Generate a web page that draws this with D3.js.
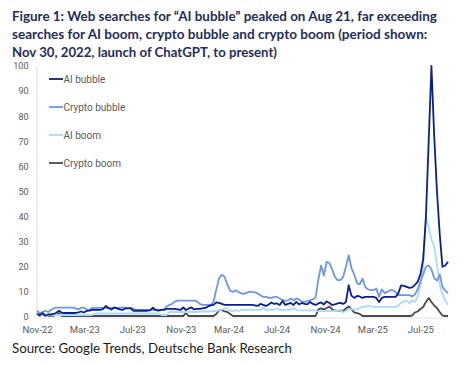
<!DOCTYPE html>
<html>
<head>
<meta charset="utf-8">
<script src="https://cdn.jsdelivr.net/npm/d3@7"></script>
<style>
  html, body { margin: 0; padding: 0; background: #fff; }
  svg { display: block; }
</style>
</head>
<body>
<svg id="chart" width="471" height="365"></svg>
<script>
// ---- Data (Google Trends index, weekly, starting Nov 30, 2022) ----
const startDate = "2022-11-30";
const seriesNames = ["AI bubble", "Crypto bubble", "AI boom", "Crypto boom"];

const aiBubble = [
  1.2, 0.8, 1.5, 0.5, 1, 1, 1.2, 1.7, 2.5, 1.7,
  1.6, 1.6, 1.6, 1.6, 1.6, 1.8, 2.2, 1.8, 2.4, 2.5,
  2.8, 2.8, 2.8, 2.8, 3.2, 4.4, 3.5, 3, 3.8, 3.4,
  3, 2.8, 3.4, 3.4, 3.4, 2.5, 2.5, 2.5, 2.5, 2.5,
  2.5, 2.6, 3.7, 2.8, 2.5, 2.8, 2.8, 3.2, 3.2, 3.2,
  3.2, 3, 2.8, 3.8, 2.8, 3.4, 3.8, 3, 3.2, 3.2,
  3.4, 3.6, 4.2, 4.6, 4.8, 5.8, 5.6, 5.2, 4.8, 4.8,
  4.8, 4.8, 4.8, 4.8, 4.8, 4.8, 4.8, 4.8, 4.8, 4.6,
  4.4, 5.2, 4.8, 4.4, 5, 5.8, 5.2, 5.4, 4.8, 6.4,
  4.8, 5.2, 5.6, 4.8, 6, 5, 5.6, 5.2, 5, 6,
  5.2, 4.8, 5.4, 5.8, 5, 6.2, 5.6, 4.8, 5, 5.4,
  5.6, 5.2, 6, 12.7, 8.5, 7.6, 8.4, 8.2, 7.6, 8,
  8, 8, 8, 7.6, 6, 7.6, 8, 8, 8, 8,
  8, 9.5, 12.6, 12.4, 12, 11.6, 11.8, 12.8, 14, 17,
  23, 40, 70, 100, 72, 50, 33, 20, 20.5, 22
];
const cryptoBubble = [
  2.5, 1.5, 2, 2.5, 2, 2.8, 3.4, 3.7, 3.7, 3.7,
  3.7, 3.7, 3.7, 3.7, 3.4, 3, 3.7, 3.7, 3, 2.8,
  3.7, 3.4, 3.6, 3.6, 3.6, 3.6, 3.6, 3.6, 3.6, 3.6,
  3.6, 3.8, 3.6, 3.6, 3.6, 3.2, 2.8, 2.8, 2.8, 2.8,
  2.8, 2.8, 2.8, 2.8, 2.8, 2.8, 3, 4.2, 4.8, 5.2,
  6.2, 6.5, 6.5, 6.5, 6.5, 6.5, 6.5, 6.5, 6.2, 5.2,
  4.8, 4.8, 4.8, 4.8, 6, 11, 15.5, 16.8, 16, 13,
  10.5, 10, 10.7, 10, 9.4, 9.2, 9.6, 10, 10, 9.8,
  9.4, 8.7, 8, 8, 7.6, 7.6, 8, 8, 7.4, 6.8,
  6.4, 6.6, 7.4, 6.6, 7.4, 7, 6.2, 6, 6.3, 6.7,
  7, 7.8, 15, 20.5, 16.5, 22, 21.5, 19, 16, 14.7,
  14.7, 16, 20, 24.6, 19.5, 17, 13.5, 13, 15.3, 12,
  11, 10.7, 10.7, 11.4, 8, 11, 9.5, 10, 10.7, 10.7,
  10, 8.7, 8.7, 8.7, 8.7, 8.7, 8.2, 9, 11, 14,
  17, 20, 20.5, 19, 15.5, 14.5, 17, 12, 10.5, 9.5
];
const aiBoom = [
  1.5, 1, 0.8, 0.8, 0.8, 0.8, 0.8, 0.8, 0.8, 0.8,
  0.8, 0.8, 0.8, 0.8, 0.8, 0.8, 0.8, 0.8, 0.8, 0.8,
  0.8, 1.4, 1.4, 1.4, 1.4, 1.4, 1.4, 1.4, 1.4, 1.4,
  1.4, 1.4, 1.4, 1.4, 1.4, 1.4, 1.4, 1.4, 1.4, 1.4,
  1.4, 1.4, 1.4, 1.4, 1.4, 0.8, 0.8, 0.8, 2, 2,
  2, 2, 2, 2, 2, 2, 2, 2, 2, 2.2,
  2.2, 2.2, 2.2, 2.2, 2.4, 2.4, 2.6, 3, 3.4, 3.4,
  2.6, 2.2, 2.8, 2.4, 2.8, 2.8, 2.8, 2.8, 2.8, 2.8,
  2.8, 2.8, 3.8, 2.8, 2.8, 2.8, 2.8, 3.4, 2.8, 2.8,
  2.8, 2.8, 2.8, 3.6, 2.8, 2.6, 2.6, 2.6, 2.6, 2.6,
  2.6, 2.6, 2.2, 2.4, 2.4, 2.4, 2.4, 2.4, 2.4, 2.4,
  2.8, 1.8, 2.4, 3.2, 3, 3, 3, 3.6, 4, 4,
  4.6, 4.2, 4, 4, 4, 4, 4, 4, 4, 4,
  4, 4.6, 5.6, 6, 6.5, 5.5, 6.5, 6, 8, 13,
  20, 40, 36, 31, 28, 21, 13, 9, 6.5, 5
];
const cryptoBoom = [
  1.5, 0.5, 1.5, 0.8, 0.5, 0.5, 0.5, 0.8, 1.5, 0.4,
  0.4, 0.4, 0.4, 0.4, 0.4, 0.4, 0.4, 0.4, 0.4, 0.4,
  0.4, 0.4, 0.4, 0.4, 0.4, 0.4, 0.4, 0.4, 0.4, 0.4,
  0.4, 0.4, 0.4, 0.4, 0.4, 0.4, 0.4, 0.4, 0.4, 0.4,
  0.4, 0.4, 0.4, 0.4, 0.4, 0.4, 0.4, 0.4, 0.4, 0.4,
  0.4, 0.4, 0.4, 0.4, 1.5, 0.4, 0.4, 0.4, 0.4, 0.4,
  0.4, 0.4, 0.4, 0.4, 0.4, 1.2, 2.6, 2.8, 2.2, 2,
  1.2, 0.4, 0.4, 0.4, 0.4, 0.4, 0.4, 0.4, 0.4, 0.4,
  0.4, 0.4, 0.4, 0.4, 0.4, 0.4, 0.4, 0.4, 0.4, 0.4,
  0.4, 0.4, 0.4, 0.4, 0.4, 0.4, 0.4, 0.4, 0.4, 0.4,
  0.4, 0.4, 3, 3.4, 3, 3.6, 4.2, 3, 2.6, 2.4,
  2.6, 2.4, 3.4, 4.2, 3, 1.8, 1.5, 1.2, 0.4, 0.4,
  0.4, 0.4, 0.4, 0.4, 0.4, 0.4, 0.4, 0.4, 0.4, 0.4,
  0.4, 0.4, 0.4, 0.4, 0.4, 0.4, 0.6, 1.8, 2.2, 3.2,
  4, 6, 7.6, 6, 4.6, 3.6, 2, 0.6, 0.4, 0.4
];
const seriesColors = ["#0c1f8c", "#6f95e8", "#a9dbf6", "#4a4a4a"];
const yTicks = [0, 10, 20, 30, 40, 50, 60, 70, 80, 90, 100];
const xTickLabels = ["Nov-22", "Mar-23", "Jul-23", "Nov-23", "Mar-24", "Jul-24", "Nov-24", "Mar-25", "Jul-25"];
const xTickDates = ["2022-11-30", "2023-03-30", "2023-07-30", "2023-11-30", "2024-03-30", "2024-07-30", "2024-11-30", "2025-03-30", "2025-07-30"];
const titleLines = [
  "Figure 1: Web searches for \u201CAI bubble\u201D peaked on Aug 21, far exceeding",
  "searches for AI boom, crypto bubble and crypto boom (period shown:",
  "Nov 30, 2022, launch of ChatGPT, to present)"
];
const sourceText = "Source: Google Trends, Deutsche Bank Research";

// ---- Drawing ----
const svg = d3.select("#chart");
const parse = d3.utcParse("%Y-%m-%d");
const start = parse(startDate);
const allSeries = [aiBubble, cryptoBubble, aiBoom, cryptoBoom];
const dates = aiBubble.map((_, i) => d3.utcDay.offset(start, 7 * i));

const x = d3.scaleUtc()
  .domain([start, dates[dates.length - 1]])
  .range([37, 448]);
const y = d3.scaleLinear().domain([0, 100]).range([317, 66]);

function fit(sel, target) {
  const node = sel.node();
  const fs = parseFloat(sel.attr("font-size"));
  const w = node.getComputedTextLength();
  sel.attr("font-size", (fs * target / w).toFixed(2));
}

// Title
const titleWidths = [425, 415.5, 265];
titleLines.forEach((t, i) => {
  const tx = svg.append("text")
    .attr("x", 12).attr("y", 20.5 + i * 18)
    .attr("font-family", "Lato, 'Open Sans', sans-serif")
    .attr("font-weight", 700)
    .attr("font-size", 13)
    .attr("fill", "#1f2d5c")
    .text(t);
  fit(tx, titleWidths[i]);
});

// Y axis
const yAxis = svg.append("g").attr("transform", "translate(36.5,0)")
  .call(d3.axisLeft(y).tickValues(yTicks).tickSize(0).tickPadding(8));
yAxis.select(".domain").attr("stroke", "#d9d9d9").attr("stroke-width", 1);
yAxis.selectAll("text")
  .attr("font-family", "Roboto, sans-serif")
  .attr("font-size", 9)
  .attr("fill", "#595959");

// X axis
const xAxis = svg.append("g").attr("transform", "translate(0,317.5)")
  .call(d3.axisBottom(x)
    .tickValues(xTickDates.map(parse))
    .tickFormat((d, i) => xTickLabels[i])
    .tickSize(0).tickPadding(9));
xAxis.select(".domain").attr("stroke", "#e3e3e3").attr("stroke-width", 1);
xAxis.selectAll("text")
  .attr("font-family", "Roboto, sans-serif")
  .attr("font-size", 9.5)
  .attr("fill", "#595959");

// Lines (draw in reverse so AI bubble is on top)
const line = d3.line()
  .x((d, i) => x(dates[i]))
  .y(d => y(d));
[3, 2, 1, 0].forEach(k => {
  svg.append("path")
    .datum(allSeries[k])
    .attr("fill", "none")
    .attr("stroke", seriesColors[k])
    .attr("stroke-width", 1.8)
    .attr("stroke-linejoin", "round")
    .attr("d", line);
});

// Legend
const legendY = [79, 107, 135, 163];
seriesNames.forEach((name, k) => {
  const g = svg.append("g");
  g.append("line")
    .attr("x1", 49).attr("x2", 63)
    .attr("y1", legendY[k]).attr("y2", legendY[k])
    .attr("stroke", seriesColors[k]).attr("stroke-width", 1.8);
  g.append("text")
    .attr("x", 63.5).attr("y", legendY[k])
    .attr("dy", "0.35em")
    .attr("font-family", "Roboto, sans-serif")
    .attr("font-size", 10)
    .attr("fill", "#595959")
    .text(name);
});

// Source
const src = svg.append("text")
  .attr("x", 12).attr("y", 353)
  .attr("font-family", "Lato, 'Open Sans', sans-serif")
  .attr("font-size", 11)
  .attr("fill", "#1a1a1a")
  .text(sourceText);
fit(src, 280);
</script>
</body>
</html>
